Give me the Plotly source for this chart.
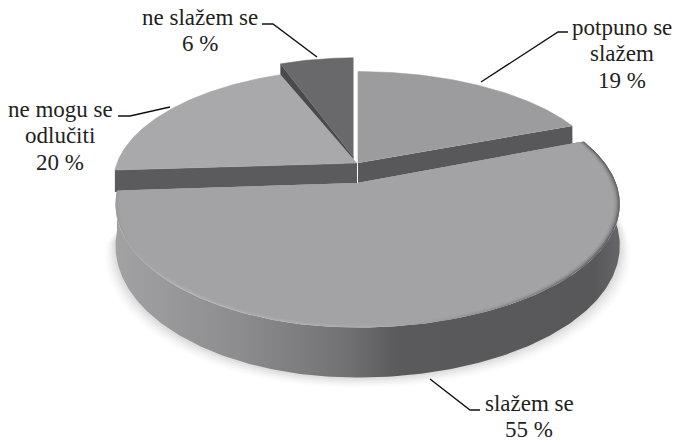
import numpy as np
import plotly.graph_objects as go

labels = ['potpuno se<br>slažem', 'slažem se', 'ne mogu se<br>odlučiti', 'ne slažem se']
values = [19, 55, 20, 6]

# start / end angle of every slice, clockwise from the top
ends = np.cumsum(values) / sum(values) * 360
starts = ends - np.array(values) / sum(values) * 360

# look of each slice: tip of the slice, radii left/right/vertical, perspective, cut face depth
K = 0.17
geom = [
    dict(cx=358, cy=163, rl=245, rr=245, ry=107, top='#9c9c9f', depth=21, face='#58585a'),
    dict(cx=357, cy=183, rl=238, rr=259, ry=120, top='#a3a3a6', depth=0, face='#58585a'),
    dict(cx=357, cy=163, rl=240, rr=240, ry=110, top='#a9a9ac', depth=22, face='#5b5b5d'),
    dict(cx=353.5, cy=157, rl=230, rr=230, ry=116, top='#69696b', depth=19, face='#4a4a4c'),
]

# label positions, centre of the first line
label_pos = [(622, 27), (529, 403), (60, 109), (200, 17)]
LINE_H = 26.5
leaders = [
    ([568, 558, 481], [32, 32, 82]),
    ([480, 470, 430], [410, 410, 379]),
    ([118, 130, 170], [116, 116, 107]),
    ([262, 273, 317], [24, 24, 57]),
]


def edge(g, t, scale=1.0):
    t = np.radians(t)
    u, v = np.sin(t), np.cos(t)
    rx = np.where(u >= 0, g['rr'], g['rl'])
    d = 1 + K * v
    return g['cx'] + scale * rx * u / d, g['cy'] - scale * g['ry'] * v / d


fig = go.Figure()


def poly(x, y, color=None, grad=None, edge_w=0):
    kw = dict(fillgradient=dict(type='horizontal', colorscale=grad)) if grad else dict(fillcolor=color)
    fig.add_trace(go.Scatter(x=list(x), y=list(y), mode='lines', fill='toself',
                             line=dict(width=edge_w, color=color), hoverinfo='skip',
                             showlegend=False, **kw))


big = geom[1]
big_t = np.linspace(starts[1], ends[1], 240)


def side_depth(t):
    return 40 + 10 * -np.cos(np.radians(t))


# soft shadow under the pie
for grow, alpha in [(10, 0.03), (8, 0.04), (6, 0.05), (4, 0.06), (2, 0.07)]:
    ex, ey = edge(big, big_t)
    dep = side_depth(big_t)
    sx = big['cx'] + (ex - big['cx']) * (1 + grow / 250)
    poly(np.r_[sx, big['cx']], np.r_[ey + dep + grow, big['cy'] + 30], f'rgba(120,120,120,{alpha})')

# slices from the back to the front
for i in [3, 0, 2]:
    g = geom[i]
    cut = ends[0] if i == 0 else starts[i]
    cx_, cy_ = edge(g, cut)
    poly([g['cx'], cx_, cx_, g['cx']],
         [g['cy'], cy_, cy_ + g['depth'], g['cy'] + g['depth']], g['face'])
    x, y = edge(g, np.linspace(starts[i], ends[i], 120))
    poly(np.r_[g['cx'], x], np.r_[g['cy'], y], g['top'], edge_w=0.6)

# big slice: side wall, rim, top
ex, ey = edge(big, big_t)
dep = side_depth(big_t)
poly(np.r_[ex, ex[::-1]], np.r_[ey, (ey + dep)[::-1]],
     grad=[[0, '#a2a2a4'], [0.25, '#8c8c8e'], [0.46, '#717173'], [0.56, '#5a5a5c'],
           [0.95, '#58585a'], [1, '#66666a']])

poly(np.r_[big['cx'], ex], np.r_[big['cy'], ey],
     grad=[[0, '#9c9c9f'], [0.12, '#b2b2b4'], [0.5, '#adadaf'], [0.75, '#8e8e90'],
           [0.97, '#606062'], [1, '#6a6a6c']])
for s, a in [(0.995, 0.35), (0.99, 0.45), (0.985, 0.6), (0.978, 1)]:
    x, y = edge(big, big_t, s)
    poly(np.r_[big['cx'], x], np.r_[big['cy'], y], f'rgba(163,163,166,{a})')

# leader lines
for lx, ly in leaders:
    fig.add_trace(go.Scatter(x=lx, y=ly, mode='lines', line=dict(color='#111111', width=1.4),
                             hoverinfo='skip', showlegend=False))

# labels, one annotation per line so the spacing stays right
for name, val, (px, py) in zip(labels, values, label_pos):
    lines = name.split('<br>') + [f'{val} %']
    for j, txt in enumerate(lines):
        fig.add_annotation(x=px, y=py + j * LINE_H, text=txt, showarrow=False,
                           font=dict(family='Liberation Serif', size=23, color='#231f20'))

fig.update_xaxes(range=[0, 675], visible=False)
fig.update_yaxes(range=[442, 0], visible=False)
fig.update_layout(width=675, height=442, margin=dict(l=0, r=0, t=0, b=0),
                  paper_bgcolor='white', plot_bgcolor='white', showlegend=False)
# the page's default body margin would push the figure 8px off
fig.write_html("out.html", config=dict(displayModeBar=False),
               post_script="document.body.style.margin='0';document.body.style.overflow='hidden';")
